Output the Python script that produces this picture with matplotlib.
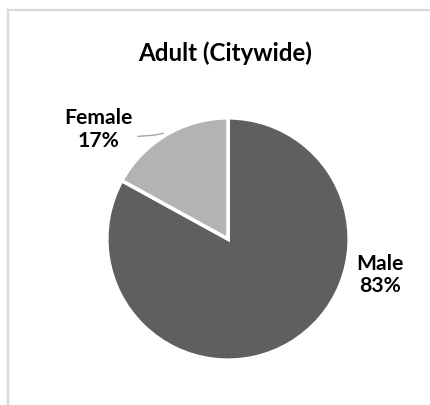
import matplotlib.pyplot as plt
from matplotlib.lines import Line2D

# gender split of adult population
labels = ['Male', 'Female']
shares = [83, 17]
colors = ['#5f5f5f', '#b3b3b3']

W, H = 431, 406
fig = plt.figure(figsize=(W / 100, H / 100), dpi=100)

# chart area border (left and top edges visible)
fig.add_artist(Line2D([8 / W, 8 / W], [0, 1 - 11 / H], color='#d9d9d9', lw=1.6))
fig.add_artist(Line2D([8 / W, 1], [1 - 11 / H, 1 - 11 / H], color='#d9d9d9', lw=1.6))

ax = fig.add_axes([108 / W, 46 / H, 240 / W, 240 / H])
ax.pie(shares, colors=colors, startangle=90, counterclock=False, radius=1.01,
       wedgeprops=dict(edgecolor='white', linewidth=2.6))
ax.set_xlim(-1, 1)
ax.set_ylim(-1, 1)
ax.set_aspect('equal')
ax.axis('off')

font = dict(family=['Lato', 'DejaVu Sans'], fontweight='bold', fontsize=15.2)
ax.text(1.27, -0.29, f'{labels[0]}\n{shares[0]}%', ha='center', va='center',
        linespacing=1.15, clip_on=False, **font)
ax.text(-1.08, 0.92, f'{labels[1]}\n{shares[1]}%', ha='center', va='center',
        linespacing=1.15, clip_on=False, **font)
ax.plot([-0.75, -0.62, -0.54], [0.855, 0.865, 0.88], color='#a6a6a6', lw=1,
        clip_on=False)

fig.text(225 / W, 1 - 53 / H, 'Adult (Citywide)', ha='center', va='center',
         family=['Lato', 'DejaVu Sans'], fontweight='bold', fontsize=17.4)

fig.savefig('out.png', dpi=100)
